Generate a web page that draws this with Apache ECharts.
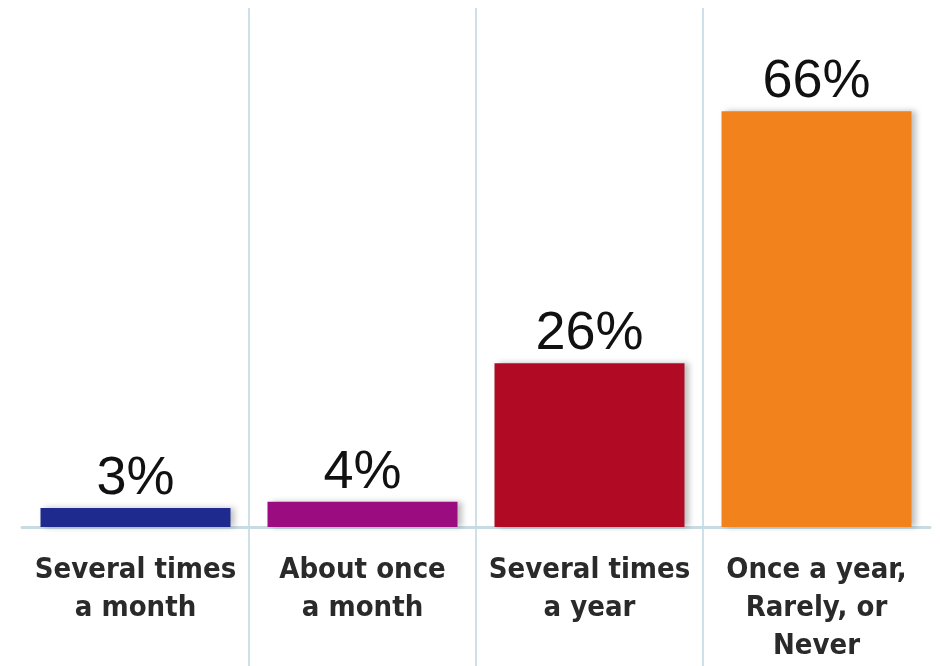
<!DOCTYPE html>
<html>
<head>
<meta charset="utf-8">
<script src="https://cdn.jsdelivr.net/npm/echarts@6/dist/echarts.min.js"></script>
<style>
  html, body { margin: 0; padding: 0; background: #fff; }
  #main { width: 940px; height: 666px; }
</style>
</head>
<body>
<div id="main"></div>
<script>
var categories = ['Several times\na month', 'About once\na month', 'Several times\na year', 'Once a year,\nRarely, or\nNever'];
var values = [3, 4, 26, 66];
var barColors = ['#1e2a8e', '#9a0c80', '#b00a24', '#f2821b'];

var chart = echarts.init(document.getElementById('main'));

var option = {
  animation: false,
  grid: [
    { left: 22, right: 10, top: 23, bottom: 139 },
    // grid only used for the light vertical separators between the categories
    { left: 249, right: 237, top: 8, bottom: 0, outerBoundsMode: 'none' }
  ],
  xAxis: [
    {
      type: 'category',
      gridIndex: 0,
      data: categories,
      axisLine: { lineStyle: { color: '#c9dbe2', width: 3 } },
      axisTick: { show: false },
      splitLine: { show: false },
      axisLabel: {
        interval: 0,
        margin: 24,
        color: '#2a2a2a',
        fontFamily: "'Liberation Sans Narrow', 'DejaVu Sans Condensed', sans-serif",
        fontWeight: 'bold',
        fontSize: 29,
        lineHeight: 38
      }
    },
    {
      type: 'value',
      gridIndex: 1,
      min: 0,
      max: 2,
      interval: 1,
      axisLine: { show: false },
      axisTick: { show: false },
      axisLabel: { show: false },
      splitLine: { show: true, lineStyle: { color: '#cfe1e8', width: 2 } }
    }
  ],
  yAxis: [
    { type: 'value', gridIndex: 0, min: 0, max: 80, show: false },
    { type: 'value', gridIndex: 1, show: false, splitLine: { show: false } }
  ],
  series: [
    {
      type: 'bar',
      xAxisIndex: 0,
      yAxisIndex: 0,
      barWidth: 190,
      data: values.map(function (v, i) {
        return { value: v, itemStyle: { color: barColors[i] } };
      }),
      itemStyle: {
        shadowColor: 'rgba(0,0,0,0.25)',
        shadowBlur: 6,
        shadowOffsetX: 4
      },
      label: {
        show: true,
        position: 'top',
        distance: 2,
        formatter: '{c}%',
        color: '#111',
        fontFamily: "'Liberation Sans', Arial, sans-serif",
        fontSize: 54
      }
    }
  ]
};

chart.setOption(option);
</script>
</body>
</html>
